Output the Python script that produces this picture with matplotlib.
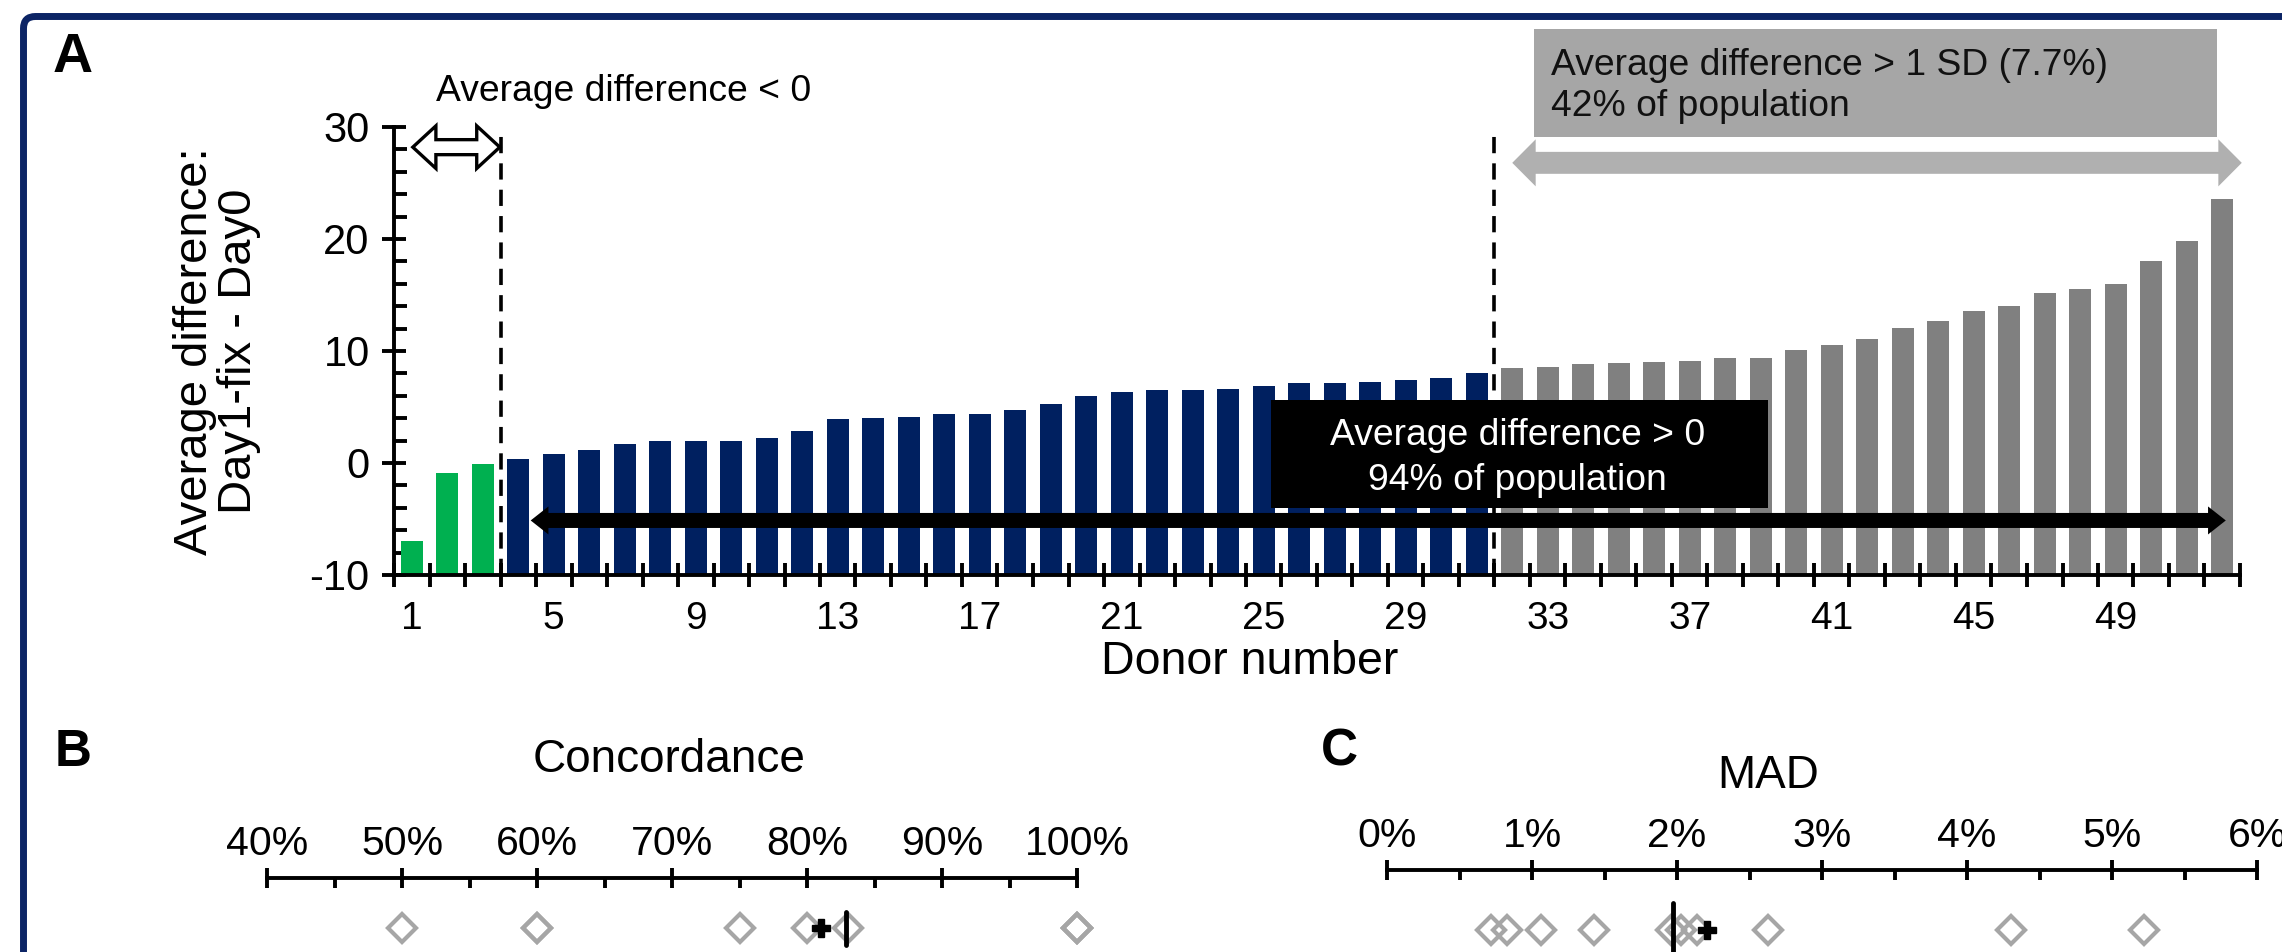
import numpy as np
import matplotlib
matplotlib.use("Agg")
from matplotlib import pyplot as plt
from matplotlib.patches import Polygon, Rectangle, FancyBboxPatch
from matplotlib.ticker import MultipleLocator
from matplotlib.transforms import IdentityTransform

plt.rcParams['font.family'] = ['Liberation Sans', 'DejaVu Sans']
plt.rcParams['axes.unicode_minus'] = False

# average difference (Day1-fix - Day0) per donor, sorted
avg_diff = np.array([
    -7.0, -0.9, -0.05, 0.4, 0.8, 1.2, 1.7, 1.95, 1.95, 1.95,
    2.2, 2.85, 3.9, 4.0, 4.15, 4.4, 4.4, 4.7, 5.3, 6.0,
    6.35, 6.5, 6.55, 6.65, 6.85, 7.1, 7.15, 7.25, 7.4, 7.6,
    8.0, 8.5, 8.6, 8.85, 8.95, 9.0, 9.15, 9.4, 9.4, 10.05,
    10.5, 11.1, 12.05, 12.7, 13.6, 14.0, 15.2, 15.5, 15.95, 18.0,
    19.85, 23.6,
])
donors = np.arange(1, len(avg_diff) + 1)
donor_labels = np.arange(1, 50, 4)
n_negative = 3      # donors with average difference < 0
n_over_sd = 21      # donors with average difference > 1 SD

# concordance and MAD per donor, with mean (+) and median (|)
concordance = [50, 60, 60, 75, 80, 83, 100, 100, 100]
conc_mean, conc_median = 81.0, 82.9
mad = [0.72, 0.83, 1.06, 1.43, 1.96, 2.03, 2.14, 2.63, 4.30, 5.22]
mad_mean, mad_median = 2.21, 1.97

GREEN = '#00b050'
NAVY = '#002060'
GREY = '#808080'
LIGHT = '#a6a6a6'
FRAME = '#0c2465'
AXW = 2.8


def double_arrow(ax, x0, x1, y, half_shaft, half_head, head_len, **kw):
    pts = [(x0, y), (x0 + head_len, y + half_head), (x0 + head_len, y + half_shaft),
           (x1 - head_len, y + half_shaft), (x1 - head_len, y + half_head), (x1, y),
           (x1 - head_len, y - half_head), (x1 - head_len, y - half_shaft),
           (x0 + head_len, y - half_shaft), (x0 + head_len, y - half_head)]
    ax.add_patch(Polygon(pts, closed=True, clip_on=False, **kw))


fig = plt.figure(figsize=(22.82, 9.52), dpi=100)

# navy border round the whole figure
fig.patches.append(FancyBboxPatch((23.5, -200), 2600, 935.5 + 200, boxstyle='round,pad=0,rounding_size=12',
                                  fc='none', ec=FRAME, lw=5, transform=IdentityTransform()))

# ---- panel A: bars per donor ----
ax = fig.add_axes([394 / 2282, 1 - 575 / 952, 1846 / 2282, 448 / 952])
ymin = -10
colors = [GREEN if d <= n_negative else (GREY if d > len(donors) - n_over_sd else NAVY) for d in donors]
ax.bar(donors, avg_diff - ymin, bottom=ymin, width=0.62, color=colors, zorder=2)

ax.set_xlim(0.5, len(donors) + 0.5)
ax.set_ylim(ymin, 30)
for s in ['top', 'right']:
    ax.spines[s].set_visible(False)
for s in ['left', 'bottom']:
    ax.spines[s].set_linewidth(AXW)

ax.set_xticks(np.arange(0.5, len(donors) + 1, 1))
ax.tick_params(axis='x', which='major', direction='inout', length=17, width=AXW, labelbottom=False)
ax.set_xticks(donor_labels, minor=True)
ax.set_xticklabels([str(d) for d in donor_labels], minor=True)
ax.tick_params(axis='x', which='minor', length=0, pad=19, labelsize=28)

ax.set_yticks(np.arange(-10, 31, 10))
ax.yaxis.set_minor_locator(MultipleLocator(2))
ax.tick_params(axis='y', which='major', direction='inout', length=17, width=AXW, labelsize=30, pad=9)
ax.tick_params(axis='y', which='minor', direction='in', length=9, width=AXW)

ax.set_ylabel('Average difference:\nDay1-fix - Day0', fontsize=34, linespacing=1.0)
ax.yaxis.set_label_coords(-0.072, 0.5)
ax.set_xlabel('Donor number', fontsize=33.5)
ax.xaxis.set_label_coords(0.4637, -0.145)
ax.xaxis.label.set_va('top')

# group boundaries
for xb in [n_negative + 0.5, len(donors) - n_over_sd + 0.5]:
    ax.plot([xb, xb], [ymin, 30], color='black', lw=2.6, ls=(0, (4.5, 2.8)), zorder=3, clip_on=False)

ax.text(1.68, 32.3, 'Average difference < 0', fontsize=26.8, va='baseline', ha='left')
double_arrow(ax, 1.03, 3.48, 28.2, 0.67, 1.9, 0.65, fc='white', ec='black', lw=2.4, zorder=5)

ax.add_patch(Rectangle((32.6, 29.1), 51.85 - 32.6, 38.75 - 29.1, fc=LIGHT, ec='none',
                       clip_on=False, zorder=4))
ax.text(33.1, 34.6, 'Average difference > 1 SD (7.7%)', fontsize=26.8, va='baseline', color='#111111', zorder=5)
ax.text(33.1, 31.0, '42% of population', fontsize=26.8, va='baseline', color='#111111', zorder=5)
double_arrow(ax, 32.0, 52.55, 26.8, 0.98, 2.1, 0.66, fc='#b0b0b0', ec='none', zorder=5)

ax.add_patch(Rectangle((25.2, -4.0), 39.2 - 25.2, 5.6 + 4.0, fc='black', ec='none', zorder=4))
ax.text(32.15, 1.6, 'Average difference > 0', fontsize=26.8, color='white', ha='center', va='baseline', zorder=5)
ax.text(32.15, -2.4, '94% of population', fontsize=26.8, color='white', ha='center', va='baseline', zorder=5)
double_arrow(ax, 4.35, 52.1, -5.13, 0.67, 1.25, 0.5, fc='black', ec='none', zorder=5)

fig.text(73 / 2282, 1 - 58 / 952, 'A', fontsize=40, weight='bold', ha='center', va='center')


# ---- panels B and C: one-line dot strips ----
def strip(rect, lo, hi, minor, values, mean, median, y_pts, med_lo, med_hi):
    a = fig.add_axes(rect)
    a.set_xlim(lo, hi)
    a.set_ylim(0, 1)
    for s in ['bottom', 'left', 'right']:
        a.spines[s].set_visible(False)
    a.spines['top'].set_linewidth(AXW)
    a.set_yticks([])
    a.xaxis.tick_top()
    ticks = np.linspace(lo, hi, 7)
    a.set_xticks(ticks)
    a.set_xticklabels([f'{t:g}%' for t in ticks])
    a.xaxis.set_minor_locator(MultipleLocator(minor))
    a.tick_params(axis='x', which='major', direction='inout', length=15, width=AXW, labelsize=29.5, pad=3)
    a.tick_params(axis='x', which='minor', direction='in', length=7, width=AXW)
    a.plot(values, [y_pts] * len(values), ls='none', marker='D', ms=14, mfc='none',
           mec=LIGHT, mew=3, clip_on=False)
    a.plot([median, median], [med_lo, med_hi], color='black', lw=3.5, solid_capstyle='round', clip_on=False)
    a.plot([mean], [y_pts], ls='none', marker='P', ms=13, color='black', mew=1, clip_on=False)
    return a


strip([267 / 2282, 0, 810 / 2282, 74 / 952], 40, 100, 5, concordance, conc_mean, conc_median,
      0.32, 0.095, 0.54)
fig.text(669 / 2282, 1 - 760 / 952, 'Concordance', fontsize=33, ha='center', va='center')
fig.text(73 / 2282, 1 - 752 / 952, 'B', fontsize=37, weight='bold', ha='center', va='center')

strip([1387 / 2282, 0, 870 / 2282, 82 / 952], 0, 6, 0.5, mad, mad_mean, mad_median,
      0.268, -0.2, 0.6)
fig.text(1768 / 2282, 1 - 776 / 952, 'MAD', fontsize=33, ha='center', va='center')
fig.text(1339 / 2282, 1 - 752 / 952, 'C', fontsize=37, weight='bold', ha='center', va='center')

fig.savefig('out.png', dpi=100)
